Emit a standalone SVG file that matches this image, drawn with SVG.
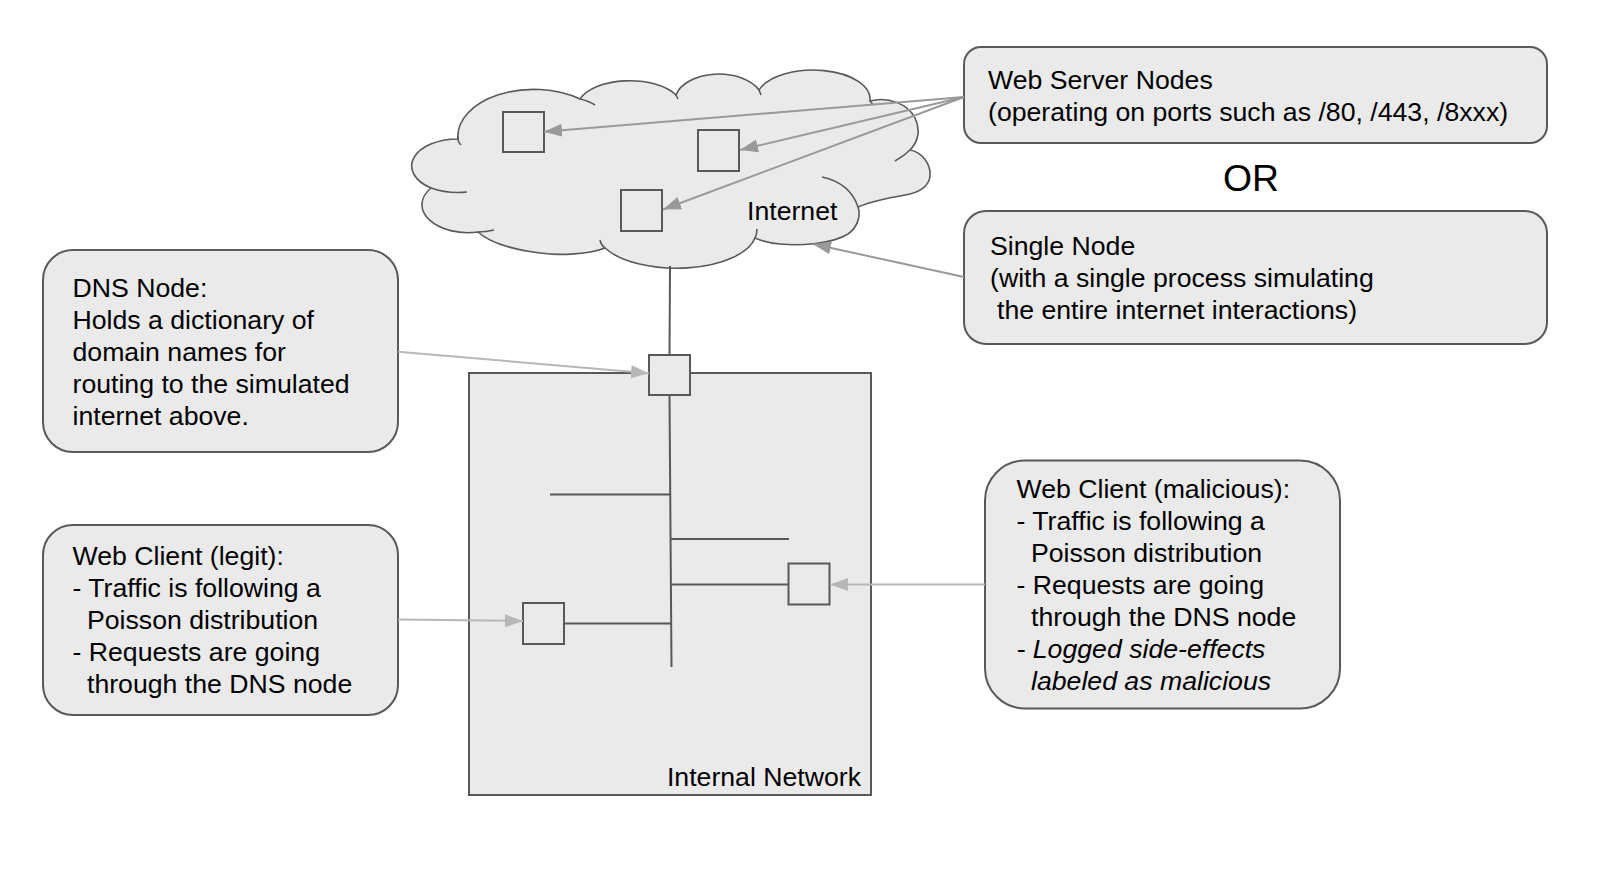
<svg xmlns="http://www.w3.org/2000/svg" width="1611" height="896" viewBox="0 0 1611 896">
<defs>
<style>
.box{fill:#eaeaea;stroke:#595959;stroke-width:2}
.sq{fill:#eaeaea;stroke:#595959;stroke-width:2}
.ln{fill:none;stroke:#595959;stroke-width:2}
.hk{fill:none;stroke:#595959;stroke-width:1.6}
.t{font-family:"Liberation Sans",Arial,Helvetica,sans-serif;font-size:26.67px;fill:#000}
.it{font-style:italic}
.a1{fill:none;stroke:#999999;stroke-width:2;marker-end:url(#ah1)}
.a2{fill:none;stroke:#b7b7b7;stroke-width:2;marker-end:url(#ah2)}
</style>
<marker id="ah1" markerUnits="userSpaceOnUse" markerWidth="20" markerHeight="14" refX="18" refY="6.5" orient="auto"><path d="M0,0 L18,6.5 L0,13 z" fill="#999999"/></marker>
<marker id="ah2" markerUnits="userSpaceOnUse" markerWidth="20" markerHeight="14" refX="18" refY="6.5" orient="auto"><path d="M0,0 L18,6.5 L0,13 z" fill="#b7b7b7"/></marker>
</defs>
<rect width="1611" height="896" fill="#ffffff"/>

<g id="internet-cloud">
<path d="M431,188 A46 27 0 0 1 458,139 A76 47 0 0 1 580,99 A52 26 0 0 1 676,95 A44 27 0 0 1 759,90 A57 29 0 0 1 870,101 C888,96 908,104 915,118 C921,130 918,142 910,150 C922,152 931,164 930,176 C929,187 918,193 905,195 C888,198 870,202 858,207 C861,215 858,227 848,234 C832,244 800,246 780,244 C770,243 762,241 755,238 A80 37 0 0 1 605,248 C590,254 560,256 540,253 C515,250 490,243 478,232 A46 28 0 0 1 431,188 Z" fill="#eaeaea" stroke="#595959" stroke-width="1.6"/>
<path class="hk" d="M461,145 Q457,141 458,136"/>
<path class="hk" d="M580,99 Q589,101 595,105"/>
<path class="hk" d="M676,95 Q677,97 678,99"/>
<path class="hk" d="M759,90 Q760,92 761,95"/>
<path class="hk" d="M870,101 Q871,102 873,105"/>
<path class="hk" d="M910,150 Q904,156 895,161"/>
<path class="hk" d="M822,177 Q850,183 858,207"/>
<path class="hk" d="M757,229 Q757,234 755,238"/>
<path class="hk" d="M605,248 Q601,245 600,240"/>
<path class="hk" d="M478,232 Q486,232 494,230"/>
<path class="hk" d="M431,188 Q448,194 467,192"/>
<text class="t" x="747" y="220">Internet</text>
</g>

<g id="internal-network">
<rect class="box" x="469" y="373" width="402" height="422"/>
<text class="t" x="861" y="786" text-anchor="end">Internal Network</text>
</g>

<g id="network-lines">
<path class="ln" d="M670,266 L669.5,355"/>
<path class="ln" d="M669.5,395 L671.5,667"/>
<path class="ln" d="M550,494.5 H670"/>
<path class="ln" d="M670,539 H789"/>
<path class="ln" d="M670,584.5 H788.5"/>
<path class="ln" d="M564,623.5 H671"/>
</g>

<g id="server-node-1"><rect class="sq" x="503" y="112" width="41" height="40"/></g>
<g id="server-node-2"><rect class="sq" x="698" y="130" width="41" height="41"/></g>
<g id="server-node-3"><rect class="sq" x="621" y="190" width="41" height="41"/></g>
<g id="dns-square"><rect class="sq" x="649" y="355" width="41" height="40"/></g>
<g id="legit-square"><rect class="sq" x="523" y="603" width="41" height="41"/></g>
<g id="malicious-square"><rect class="sq" x="788.5" y="563.5" width="41" height="41"/></g>

<g id="web-server-box">
<rect class="box" x="964" y="47" width="583" height="96" rx="17"/>
<text class="t" x="988" y="89">Web Server Nodes</text>
<text class="t" x="988" y="121">(operating on ports such as /80, /443, /8xxx)</text>
</g>

<g id="or-label">
<text class="t" x="1251" y="191" text-anchor="middle" style="font-size:37.33px">OR</text>
</g>

<g id="single-node-box">
<rect class="box" x="964" y="211" width="583" height="133" rx="22"/>
<text class="t" x="990" y="255">Single Node</text>
<text class="t" x="990" y="287">(with a single process simulating</text>
<text class="t" x="997" y="319">the entire internet interactions)</text>
</g>

<g id="dns-box">
<rect class="box" x="43" y="250" width="355" height="202" rx="30"/>
<text class="t" x="72.5" y="297">DNS Node:</text>
<text class="t" x="72.5" y="329">Holds a dictionary of</text>
<text class="t" x="72.5" y="361">domain names for</text>
<text class="t" x="72.5" y="393">routing to the simulated</text>
<text class="t" x="72.5" y="425">internet above.</text>
</g>

<g id="legit-box">
<rect class="box" x="43" y="525" width="355" height="190" rx="30"/>
<text class="t" x="72.5" y="565">Web Client (legit):</text>
<text class="t" x="72.5" y="597">- Traffic is following a</text>
<text class="t" x="87" y="629">Poisson distribution</text>
<text class="t" x="72.5" y="661">- Requests are going</text>
<text class="t" x="87" y="693">through the DNS node</text>
</g>

<g id="malicious-box">
<rect class="box" x="985" y="460.5" width="355" height="248" rx="40"/>
<text class="t" x="1016.5" y="497.5">Web Client (malicious):</text>
<text class="t" x="1016.5" y="529.5">- Traffic is following a</text>
<text class="t" x="1031" y="561.5">Poisson distribution</text>
<text class="t" x="1016.5" y="593.5">- Requests are going</text>
<text class="t" x="1031" y="625.5">through the DNS node</text>
<text class="t it" x="1016.5" y="657.5">- Logged side-effects</text>
<text class="t it" x="1031" y="689.5">labeled as malicious</text>
</g>

<g id="connectors">
<path class="a1" d="M964,97 L544,131.7"/>
<path class="a1" d="M964,97 L740,150"/>
<path class="a1" d="M964,97 L663,209.5"/>
<path class="a1" d="M964,277 L813,244"/>
<path class="a2" d="M398,351.7 L649,373.3"/>
<path class="a2" d="M398,619.5 L523,621"/>
<path class="a2" d="M985,584.5 L830,584.5"/>
</g>
</svg>
